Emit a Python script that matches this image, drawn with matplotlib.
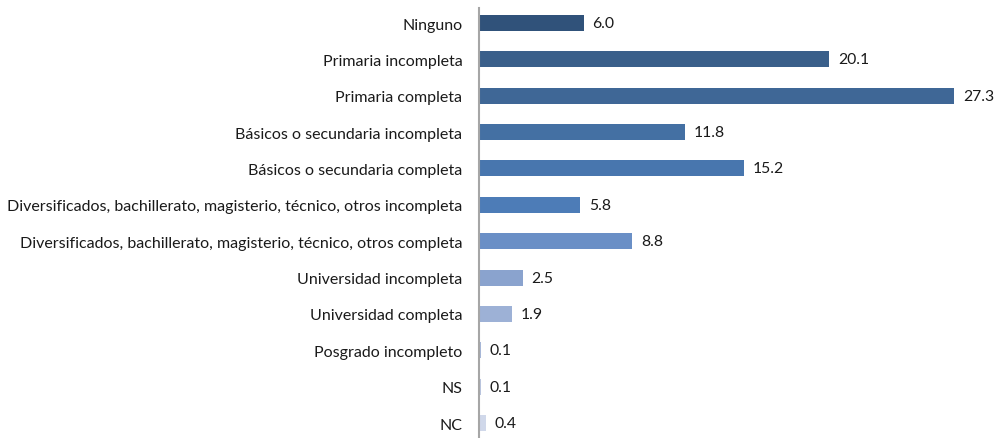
import matplotlib
matplotlib.use('Agg')
import matplotlib.pyplot as plt

categories = [
    'Ninguno',
    'Primaria incompleta',
    'Primaria completa',
    'Básicos o secundaria incompleta',
    'Básicos o secundaria completa',
    'Diversificados, bachillerato, magisterio, técnico, otros incompleta',
    'Diversificados, bachillerato, magisterio, técnico, otros completa',
    'Universidad incompleta',
    'Universidad completa',
    'Posgrado incompleto',
    'NS',
    'NC',
]
values = [6.0, 20.1, 27.3, 11.8, 15.2, 5.8, 8.8, 2.5, 1.9, 0.1, 0.1, 0.4]
colors = ['#30527A', '#3A5F8A', '#3F6796', '#4470A3', '#4876AE', '#4D7CB7',
          '#6A8FC6', '#8AA3CE', '#9DB1D6', '#A8B8DA', '#BAC6E0', '#D0D8EA']

plt.rcParams['font.family'] = ['Lato', 'DejaVu Sans']

fig = plt.figure(figsize=(9.98, 4.39), dpi=100)
ax = fig.add_axes([0.48, 0.0, 0.506, 1.0])

ypos = list(range(len(categories)))
ax.barh(ypos, values, height=0.44, color=colors)
for y, v in zip(ypos, values):
    ax.text(v + 0.5, y, f'{v:.1f}', va='center', ha='left', fontsize=11.3, color='#1a1a1a')

ax.set_yticks(ypos)
ax.set_yticklabels(categories, fontsize=11.5, color='#1a1a1a')
ax.tick_params(axis='y', length=0, pad=12)
ax.set_xticks([])
ax.set_xlim(0, 29)
ax.set_ylim(11.41, -0.66)
for side in ['top', 'right', 'bottom']:
    ax.spines[side].set_visible(False)
ax.spines['left'].set_color('#A6A6A6')
ax.spines['left'].set_linewidth(1.5)
ax.spines['left'].set_bounds(11.41, -0.4)

fig.savefig('out.png', dpi=100)
